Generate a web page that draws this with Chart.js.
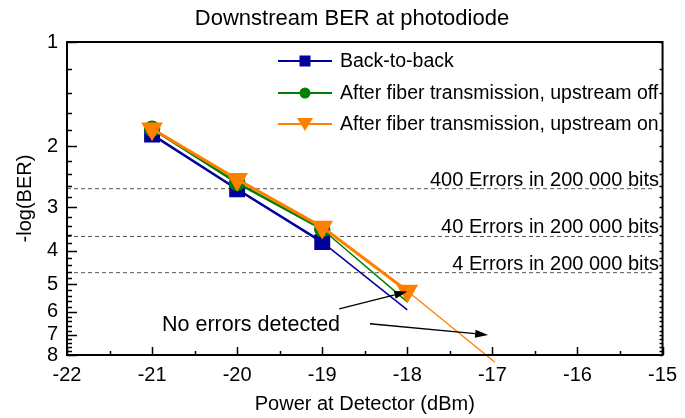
<!DOCTYPE html>
<html>
<head>
<meta charset="utf-8">
<script src="https://cdn.jsdelivr.net/npm/chart.js@4.4.1/dist/chart.umd.min.js"></script>
<style>
  html, body { margin: 0; padding: 0; background: #fff; }
</style>
</head>
<body>
<canvas id="berChart" width="685" height="418"></canvas>
<script>
// measured points (-log(BER) vs received power)
const powerDbm = [-21, -20, -19, -18];
const backToBack = [1.85, 2.66, 3.78];
const upstreamOff = [1.78, 2.55, 3.47];
const upstreamOn = [1.78, 2.49, 3.42, 5.23];

// thin extrapolation lines
const backToBackExtX = [-19, -18];
const backToBackExt = [3.78, 5.93];
const upstreamOffExtX = [-19, -18];
const upstreamOffExt = [3.47, 5.62];
const upstreamOnExtX = [-18, -16.97];
const upstreamOnExt = [5.23, 8.4];

// error count reference lines
const errorLevels = [2.65, 3.64, 4.63];
const errorLabels = ['400 Errors in 200 000 bits', '40 Errors in 200 000 bits', '4 Errors in 200 000 bits'];

const xTickValues = [-22, -21, -20, -19, -18, -17, -16, -15];
const yTickValues = [1, 2, 3, 4, 5, 6, 7, 8];

const legendNames = ['Back-to-back', 'After fiber transmission, upstream off', 'After fiber transmission, upstream on'];
const chartTitle = 'Downstream BER at photodiode';

const BLUE = '#00009c';
const GREEN = '#008000';
const ORANGE = '#ff8000';
const FONT = "'Liberation Sans', Arial, sans-serif";

function pts(xs, ys) {
    return ys.map((y, i) => ({ x: xs[i], y: y }));
}

// minor tick positions (every 0.2 on y, every 0.5 on x)
const yMinor = [];
for (let v = 1; v <= 8.001; v += 0.2) yMinor.push(Math.round(v * 10) / 10);
const xMinor = [];
for (let v = -22; v <= -15; v += 0.5) xMinor.push(v);

function arrow(ctx, x1, y1, x2, y2) {
    const a = Math.atan2(y2 - y1, x2 - x1);
    const len = 13, half = 4;
    ctx.beginPath();
    ctx.moveTo(x1, y1);
    ctx.lineTo(x2 - Math.cos(a) * len, y2 - Math.sin(a) * len);
    ctx.stroke();
    ctx.beginPath();
    ctx.moveTo(x2, y2);
    ctx.lineTo(x2 - Math.cos(a) * len - Math.sin(a) * half, y2 - Math.sin(a) * len + Math.cos(a) * half);
    ctx.lineTo(x2 - Math.cos(a) * len + Math.sin(a) * half, y2 - Math.sin(a) * len - Math.cos(a) * half);
    ctx.closePath();
    ctx.fill();
}

function marker(ctx, kind, x, y, color) {
    ctx.fillStyle = color;
    ctx.beginPath();
    if (kind === 'rect') {
        ctx.rect(x - 5.5, y - 5.5, 11, 11);
    } else if (kind === 'circle') {
        ctx.arc(x, y, 5.5, 0, Math.PI * 2);
    } else {
        ctx.moveTo(x - 8, y - 6);
        ctx.lineTo(x + 8, y - 6);
        ctx.lineTo(x, y + 7);
        ctx.closePath();
    }
    ctx.fill();
}

const extras = {
    id: 'extras',
    afterDraw(chart) {
        const ctx = chart.ctx;
        const xs = chart.scales.x, ys = chart.scales.y;
        const a = chart.chartArea;
        ctx.save();

        // title
        ctx.fillStyle = '#000';
        ctx.font = '22px ' + FONT;
        ctx.textAlign = 'center';
        ctx.textBaseline = 'middle';
        ctx.fillText(chartTitle, 352, 19);

        // frame
        ctx.strokeStyle = '#000';
        ctx.lineWidth = 2;
        ctx.strokeRect(a.left, a.top, a.right - a.left, a.bottom - a.top);

        // inward ticks
        ctx.lineWidth = 1.5;
        ctx.beginPath();
        yMinor.forEach(v => {
            const y = Math.round(ys.getPixelForValue(v)) + 0.5;
            const major = Number.isInteger(v);
            ctx.moveTo(a.left, y);
            ctx.lineTo(a.left + (major ? 10 : 5), y);
            ctx.moveTo(a.right, y);
            ctx.lineTo(a.right - 3, y);
        });
        xMinor.forEach(v => {
            const x = Math.round(xs.getPixelForValue(v)) + 0.5;
            const major = Number.isInteger(v);
            ctx.moveTo(x, a.bottom);
            ctx.lineTo(x, a.bottom - (major ? 8 : 4));
        });
        ctx.stroke();

        // error labels
        ctx.fillStyle = '#000';
        ctx.font = '20px ' + FONT;
        ctx.textAlign = 'right';
        ctx.textBaseline = 'alphabetic';
        errorLevels.forEach((v, i) => {
            ctx.fillText(errorLabels[i], 659, ys.getPixelForValue(v) - 3);
        });

        // no errors note and arrows
        ctx.font = '21.5px ' + FONT;
        ctx.textAlign = 'left';
        ctx.textBaseline = 'middle';
        ctx.fillText('No errors detected', 162, 325);
        ctx.lineWidth = 1.3;
        ctx.strokeStyle = '#000';
        arrow(ctx, xs.getPixelForValue(-18.8), ys.getPixelForValue(5.89), xs.getPixelForValue(-18.0), ys.getPixelForValue(5.25));
        arrow(ctx, xs.getPixelForValue(-18.44), ys.getPixelForValue(6.5), xs.getPixelForValue(-17.05), ys.getPixelForValue(7.0));

        // legend
        ctx.font = '19.5px ' + FONT;
        const kinds = ['rect', 'circle', 'triangle'];
        const colors = [BLUE, GREEN, ORANGE];
        const rows = [61, 93, 124];
        rows.forEach((y, i) => {
            ctx.strokeStyle = colors[i];
            ctx.lineWidth = 2.2;
            ctx.beginPath();
            ctx.moveTo(278, y);
            ctx.lineTo(332, y);
            ctx.stroke();
            marker(ctx, kinds[i], 305, y, colors[i]);
            ctx.fillStyle = '#000';
            ctx.textAlign = 'left';
            ctx.fillText(legendNames[i], 340, y + 1);
        });
        ctx.restore();
    }
};

const ctx = document.getElementById('berChart').getContext('2d');

const datasets = [
    {
        data: pts(powerDbm, upstreamOn), borderColor: ORANGE, backgroundColor: ORANGE,
        borderWidth: 3, pointStyle: 'triangle', rotation: 180, pointRadius: 9.5, order: 1
    },
    {
        data: pts(upstreamOnExtX, upstreamOnExt), borderColor: ORANGE, borderWidth: 1.3,
        pointRadius: 0, clip: false, order: 2
    },
    {
        data: pts(powerDbm, upstreamOff), borderColor: GREEN, backgroundColor: GREEN,
        borderWidth: 2.5, pointStyle: 'circle', pointRadius: 7, order: 3
    },
    {
        data: pts(upstreamOffExtX, upstreamOffExt), borderColor: GREEN, borderWidth: 1.5,
        pointRadius: 0, order: 4
    },
    {
        data: pts(powerDbm, backToBack), borderColor: BLUE, backgroundColor: BLUE,
        borderWidth: 2.5, pointStyle: 'rect', pointRadius: 9.5, order: 5
    },
    {
        data: pts(backToBackExtX, backToBackExt), borderColor: BLUE, borderWidth: 1.5,
        pointRadius: 0, order: 6
    }
];
errorLevels.forEach(v => {
    datasets.push({
        data: [{ x: -22, y: v }, { x: -15.1, y: v }],
        borderColor: '#555', borderWidth: 1, borderDash: [4, 3],
        pointRadius: 0, order: 10
    });
});

new Chart(ctx, {
    type: 'line',
    data: { datasets: datasets },
    options: {
        responsive: false,
        animation: false,
        layout: { padding: { left: 0, right: 16, top: 42, bottom: 0 } },
        plugins: {
            legend: { display: false },
            tooltip: { enabled: false },
            title: { display: false }
        },
        elements: { line: { tension: 0 }, point: { borderWidth: 0 } },
        scales: {
            x: {
                type: 'linear',
                min: -22,
                max: -15,
                afterFit: s => { s.height = 63; },
                afterBuildTicks: s => { s.ticks = xTickValues.map(v => ({ value: v })); },
                ticks: { color: '#000', font: { family: FONT, size: 20 }, padding: 8, maxRotation: 0 },
                grid: { display: false, drawTicks: false },
                border: { display: false },
                title: {
                    display: true, text: 'Power at Detector (dBm)', color: '#000',
                    font: { family: FONT, size: 20 }, padding: { top: 0, bottom: 2 }
                }
            },
            y: {
                type: 'logarithmic',
                reverse: true,
                min: 1,
                max: 8,
                afterFit: s => { s.width = 67; },
                afterBuildTicks: s => { s.ticks = yTickValues.map(v => ({ value: v })); },
                ticks: { color: '#000', font: { family: FONT, size: 20 }, padding: 9, callback: v => String(v) },
                grid: { display: false, drawTicks: false },
                border: { display: false },
                title: {
                    display: true, text: '-log(BER)', color: '#000',
                    font: { family: FONT, size: 20 }, padding: { top: 13, bottom: 0 }
                }
            }
        }
    },
    plugins: [extras]
});
</script>
</body>
</html>
